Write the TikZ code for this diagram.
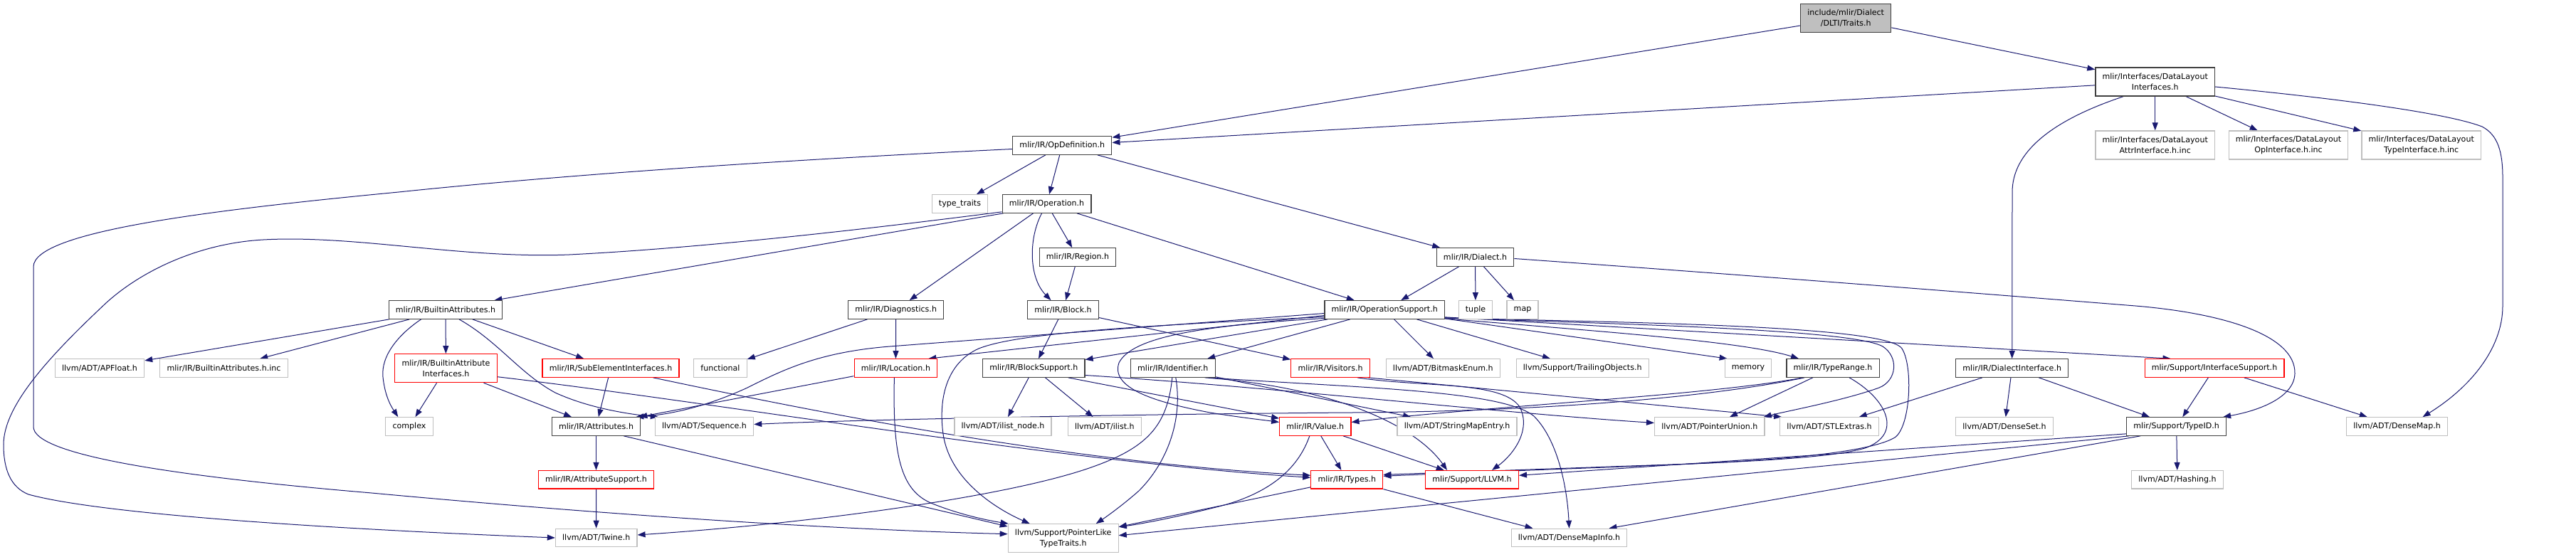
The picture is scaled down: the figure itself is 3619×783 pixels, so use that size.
\documentclass[tikz,border=0pt]{standalone}
\usepackage{fontspec}
\setmainfont{DejaVu Sans}
\usetikzlibrary{arrows.meta,calc,backgrounds}
\definecolor{edgec}{RGB}{25,25,112}
\definecolor{blkb}{RGB}{64,64,64}
\definecolor{gryb}{RGB}{191,191,191}
\definecolor{redb}{RGB}{255,0,0}
\definecolor{rootf}{RGB}{191,191,191}
\newcommand\nodefont{\fontsize{11.06pt}{15pt}\selectfont}
\tikzset{
  nbase/.style={line width=1.2pt, fill=white, inner xsep=9.7pt, inner ysep=0pt,
    minimum height=25.5pt, font=\nodefont, align=center, text=black},
  nb/.style={nbase, draw=blkb},
  ng/.style={nbase, draw=gryb},
  nr/.style={nbase, draw=redb},
  two/.style={minimum height=40pt},
  dep/.style={draw=edgec, line width=1.0pt, -{Triangle[length=11pt,width=8pt]}, fill=none}
}
\begin{document}
\begin{tikzpicture}[x=1pt,y=-1pt]
\useasboundingbox (0,0) rectangle (3619,783);
% row 0-2
\node[nb,fill=rootf,two] (Traits) at (2593.2,25.7) {include/mlir/Dialect\\/DLTI/Traits.h};
\node[nb,two] (DLI) at (3027.7,115) {mlir/Interfaces/DataLayout\\Interfaces.h};
\node[nb] (OpDef) at (1492.3,204.5) {mlir/IR/OpDefinition.h};
\node[ng,two] (DLAttr) at (3027.7,204) {mlir/Interfaces/DataLayout\\AttrInterface.h.inc};
\node[ng,two] (DLOp) at (3215,204) {mlir/Interfaces/DataLayout\\OpInterface.h.inc};
\node[ng,two] (DLType) at (3401.7,204) {mlir/Interfaces/DataLayout\\TypeInterface.h.inc};
% row 3-4
\node[ng] (typetraits) at (1348.5,286.5) {type\_traits};
\node[nb] (Operation) at (1470.5,286.5) {mlir/IR/Operation.h};
\node[nb] (Region) at (1514,361.5) {mlir/IR/Region.h};
\node[nb] (Dialect) at (2072.5,361.5) {mlir/IR/Dialect.h};
% row 5
\node[nb] (BA) at (626,435.5) {mlir/IR/BuiltinAttributes.h};
\node[nb] (Diagnostics) at (1258.7,435.5) {mlir/IR/Diagnostics.h};
\node[nb] (Block) at (1493.5,435.5) {mlir/IR/Block.h};
\node[nb] (OpSupport) at (1945.2,435.5) {mlir/IR/OperationSupport.h};
\node[ng] (tuple) at (2073,435.5) {tuple};
\node[ng] (map) at (2139,435.5) {map};
% row 6
\node[ng] (APFloat) at (140,517.5) {llvm/ADT/APFloat.h};
\node[ng] (BAinc) at (314.5,517.5) {mlir/IR/BuiltinAttributes.h.inc};
\node[nr,two] (BAI) at (626.5,517.7) {mlir/IR/BuiltinAttribute\\Interfaces.h};
\node[nr] (SubElem) at (858,517.5) {mlir/IR/SubElementInterfaces.h};
\node[ng] (functional) at (1012,517.5) {functional};
\node[nr] (Location) at (1258.4,517.5) {mlir/IR/Location.h};
\node[nb] (BlockSupport) at (1452.3,517.5) {mlir/IR/BlockSupport.h};
\node[nb] (Identifier) at (1647.8,517.5) {mlir/IR/Identifier.h};
\node[nr] (Visitors) at (1869,517.5) {mlir/IR/Visitors.h};
\node[ng] (BitmaskEnum) at (2027.3,517.5) {llvm/ADT/BitmaskEnum.h};
\node[ng] (TrailingObjects) at (2223.2,517.5) {llvm/Support/TrailingObjects.h};
\node[ng] (memory) at (2456,517.5) {memory};
\node[nb] (TypeRange) at (2575,517.5) {mlir/IR/TypeRange.h};
\node[nb] (DialectInterface) at (2826.7,517.5) {mlir/IR/DialectInterface.h};
\node[nr] (InterfaceSupport) at (3111,517.5) {mlir/Support/InterfaceSupport.h};
% row 7
\node[ng] (complex) at (575,599.5) {complex};
\node[nb] (Attributes) at (837.5,599.5) {mlir/IR/Attributes.h};
\node[ng] (Sequence) at (989.5,599.5) {llvm/ADT/Sequence.h};
\node[ng] (ilistnode) at (1409,599.5) {llvm/ADT/ilist\_node.h};
\node[ng] (ilist) at (1551.8,599.5) {llvm/ADT/ilist.h};
\node[nr] (Value) at (1847.8,599.5) {mlir/IR/Value.h};
\node[ng] (StringMapEntry) at (2047,599.5) {llvm/ADT/StringMapEntry.h};
\node[ng] (PointerUnion) at (2401.8,599.5) {llvm/ADT/PointerUnion.h};
\node[ng] (STLExtras) at (2570,599.5) {llvm/ADT/STLExtras.h};
\node[ng] (DenseSet) at (2816,599.5) {llvm/ADT/DenseSet.h};
\node[nb] (TypeID) at (3057.6,599.5) {mlir/Support/TypeID.h};
\node[ng] (DenseMap) at (3367.5,599.5) {llvm/ADT/DenseMap.h};
% row 8
\node[nr] (AttributeSupport) at (837.5,674.3) {mlir/IR/AttributeSupport.h};
\node[nr] (Types) at (1892.3,674.3) {mlir/IR/Types.h};
\node[nr] (LLVM) at (2068,674.3) {mlir/Support/LLVM.h};
\node[ng] (Hashing) at (3059,674.3) {llvm/ADT/Hashing.h};
% row 9
\node[ng] (Twine) at (837.7,756) {llvm/ADT/Twine.h};
\node[ng,two] (PointerLike) at (1493.7,756.7) {llvm/Support/PointerLike\\TypeTraits.h};
\node[ng] (DenseMapInfo) at (2204.5,756) {llvm/ADT/DenseMapInfo.h};

\begin{scope}[on background layer]
\fill[white] (0,0) rectangle (3619,783);
% top
\draw[dep] (Traits) -- (OpDef);
\draw[dep] (Traits) -- (DLI);
\draw[dep] (DLI) -- (OpDef);
\draw[dep] (DLI) -- (DLAttr);
\draw[dep] (DLI) -- (DLOp);
\draw[dep] (DLI) -- (DLType);
\draw[dep] ($(DLI.south west)+(40,0)$) .. controls (2880,170) and (2827,215) .. (2827,270) -- (DialectInterface.north);
\draw[dep] ($(DLI.east)+(0,7)$) .. controls (3300,140) and (3440,160) .. (3487,178) .. controls (3510,190) and (3516,215) .. (3516,250) -- (3516,430) .. controls (3516,490) and (3470,545) .. ($(DenseMap.north)+(36,0)$);
% OpDefinition
\draw[dep] (OpDef) -- (typetraits);
\draw[dep] (OpDef) -- (Operation);
\draw[dep] (OpDef) -- (Dialect);
\draw[dep] ($(OpDef.west)+(0,5)$) .. controls (1100,225) and (800,245) .. (560,270) .. controls (300,295) and (47,325) .. (47,375) -- (47,600) .. controls (47,640) and (250,670) .. (522,693) .. controls (900,728) and (1200,745) .. ($(PointerLike.west)+(0,-6)$);
% Operation
\draw[dep] ($(Operation.south west)+(0,-2)$) .. controls (1250,318) and (1000,348) .. (800,358) .. controls (650,364) and (500,330) .. (370,337) .. controls (280,342) and (200,380) .. (150,425) .. controls (70,500) and (5,570) .. (5,625) .. controls (5,660) and (15,685) .. (40,695) .. controls (150,725) and (500,745) .. (Twine.west);
\draw[dep] ($(Operation.south west)+(2,0)$) -- ($(BA.north east)+(-12,0)$);
\draw[dep] (Operation) -- (Diagnostics);
\draw[dep] ($(Operation.south)+(-7,0)$) .. controls (1445,335) and (1445,390) .. ($(Block.north)+(-17,0)$);
\draw[dep] (Operation) -- (Region);
\draw[dep] (Operation) -- (OpSupport);
\draw[dep] (Region) -- (Block);
% Dialect
\draw[dep] (Dialect) -- (OpSupport);
\draw[dep] (Dialect) -- (tuple);
\draw[dep] (Dialect) -- (map);
\draw[dep] ($(Dialect.east)+(0,2)$) .. controls (2500,390) and (2850,418) .. (3000,430) .. controls (3120,440) and (3225,470) .. (3224,525) .. controls (3223,560) and (3170,578) .. ($(TypeID.north east)+(-5,0)$);
% BuiltinAttributes
\draw[dep] (BA) -- (APFloat);
\draw[dep] (BA) -- (BAinc);
\draw[dep] ($(BA.south west)+(46,0)$) .. controls (560,470) and (535,500) .. (538,530) .. controls (541,560) and (552,575) .. ($(complex.north west)+(18,0)$);
\draw[dep] (BA) -- (BAI);
\draw[dep] (BA) -- (SubElem);
\draw[dep] ($(BA.south)+(19,0)$) .. controls (700,480) and (730,525) .. (780,552) .. controls (830,575) and (890,583) .. ($(Sequence.north west)+(5,0)$);
\draw[dep] (BAI) -- (complex);
\draw[dep] (BAI) -- (Attributes);
\draw[dep] ($(BAI.east)+(0,12)$) .. controls (1000,565) and (1500,650) .. ($(Types.west)+(0,-3)$);
\draw[dep] ($(SubElem.south east)+(-37,0)$) .. controls (1150,580) and (1500,650) .. ($(Types.west)+(0,-6)$);
\draw[dep] (SubElem) -- (Attributes);
% Diagnostics, Location, Attributes
\draw[dep] (Diagnostics) -- (functional);
\draw[dep] (Diagnostics) -- (Location);
\draw[dep] (Location) -- ($(Attributes.north east)+(-2,0)$);
\draw[dep] ($(Location.south)+(-2,0)$) .. controls (1254,640) and (1265,690) .. (1310,708) .. controls (1350,724) and (1390,732) .. ($(PointerLike.north west)+(1,0)$);
\draw[dep] (Attributes) -- (AttributeSupport);
\draw[dep] ($(Attributes.south east)+(-24,0)$) -- ($(PointerLike.north west)+(0,4)$);
\draw[dep] (AttributeSupport) -- (Twine);
% OperationSupport
\draw[dep] ($(OpSupport.west)+(0,8)$) -- ($(Location.north east)+(-13,0)$);
\draw[dep] ($(OpSupport.west)+(0,5)$) -- (1250,487) .. controls (1150,495) and (1100,520) .. (1050,545) .. controls (1000,568) and (950,582) .. ($(Attributes.north east)+(-7,0)$);
\draw[dep] (OpSupport) -- (BlockSupport);
\draw[dep] ($(OpSupport.west)+(0,10)$) .. controls (1600,458) and (1430,468) .. (1375,490) .. controls (1330,510) and (1318,560) .. (1325,610) .. controls (1335,680) and (1410,720) .. ($(PointerLike.north)+(-47,0)$);
\draw[dep] ($(OpSupport.west)+(0,12)$) .. controls (1680,458) and (1590,475) .. (1572,510) .. controls (1560,545) and (1620,565) .. (1700,580) .. controls (1750,588) and (1780,591) .. ($(Value.west)+(0,-6)$);
\draw[dep] (OpSupport) -- (Identifier);
\draw[dep] (OpSupport) -- (BitmaskEnum);
\draw[dep] (OpSupport) -- (TrailingObjects);
\draw[dep] ($(OpSupport.south east)+(0,-1)$) -- ($(memory.north west)+(4,0)$);
\draw[dep] ($(OpSupport.south east)+(0,-1)$) .. controls (2250,466) and (2450,480) .. ($(TypeRange.north)+(-48,0)$);
\draw[dep] ($(OpSupport.south east)+(0,-3)$) -- ($(InterfaceSupport.north west)+(37,0)$);
\draw[dep] ($(OpSupport.south east)+(0,-2)$) .. controls (2250,455) and (2600,462) .. (2645,487) .. controls (2668,502) and (2665,535) .. (2640,545) .. controls (2590,563) and (2510,578) .. ($(PointerUnion.north east)+(-2,0)$);
\draw[dep] ($(OpSupport.south east)+(0,-2)$) .. controls (2250,453) and (2650,456) .. (2672,490) .. controls (2688,515) and (2684,600) .. (2662,615) .. controls (2620,640) and (2450,650) .. (2320,654) -- ($(Types.east)+(0,-7)$);
% TypeRange
\draw[dep] ($(TypeRange.south)+(23,0)$) .. controls (2650,560) and (2675,610) .. (2620,630) .. controls (2550,650) and (2350,652) .. ($(Types.east)+(0,-5)$);
\draw[dep] ($(TypeRange.south)+(-40,0)$) .. controls (2420,555) and (2200,578) .. (1900,580) .. controls (1600,582) and (1200,590) .. ($(Sequence.east)+(0,-3)$);
\draw[dep] ($(TypeRange.south)+(-42,0)$) .. controls (2400,556) and (2100,570) .. ($(Value.east)+(0,-6)$);
\draw[dep] (TypeRange) -- (PointerUnion);
% DialectInterface, InterfaceSupport, TypeID
\draw[dep] (DialectInterface) -- (STLExtras);
\draw[dep] (DialectInterface) -- (DenseSet);
\draw[dep] (DialectInterface) -- (TypeID);
\draw[dep] (InterfaceSupport) -- (TypeID);
\draw[dep] (InterfaceSupport) -- (DenseMap);
\draw[dep] (TypeID) -- (Hashing);
\draw[dep] ($(TypeID.south west)+(4,0)$) -- ($(PointerLike.east)+(0,-4)$);
\draw[dep] ($(TypeID.south west)+(0,-3)$) -- ($(LLVM.east)+(0,-6)$);
\draw[dep] ($(TypeID.south west)+(20,0)$) -- ($(DenseMapInfo.north east)+(-26,0)$);
% Block, BlockSupport
\draw[dep] (Block) -- (BlockSupport);
\draw[dep] (Block) -- (Visitors);
\draw[dep] (BlockSupport) -- (ilistnode);
\draw[dep] (BlockSupport) -- (ilist);
\draw[dep] ($(BlockSupport.south east)+(-24,0)$) -- ($(Value.north west)+(0,2)$);
\draw[dep] ($(BlockSupport.east)+(0,10)$) .. controls (1800,545) and (2100,580) .. ($(PointerUnion.west)+(0,-5)$);
% Identifier
\draw[dep] ($(Identifier.south)+(-1,0)$) .. controls (1640,600) and (1610,630) .. (1533,657) .. controls (1420,697) and (1150,735) .. ($(Twine.east)+(0,-4)$);
\draw[dep] ($(Identifier.south)+(4,0)$) .. controls (1662,590) and (1640,650) .. (1600,690) .. controls (1575,712) and (1552,728) .. ($(PointerLike.north east)+(-32,0)$);
\draw[dep] (Identifier) -- (StringMapEntry);
\draw[dep] ($(Identifier.south east)+(-15,0)$) .. controls (1880,545) and (1990,600) .. ($(LLVM.north)+(-35,0)$);
\draw[dep] ($(Identifier.south east)+(-10,0)$) .. controls (1900,545) and (2110,548) .. (2155,585) .. controls (2190,620) and (2202,690) .. (DenseMapInfo.north);
% Visitors
\draw[dep] ($(Visitors.south east)+(-18,0)$) .. controls (2000,545) and (2110,535) .. (2135,572) .. controls (2152,605) and (2125,640) .. ($(LLVM.north)+(28,0)$);
\draw[dep] ($(Visitors.south east)+(-3,0)$) -- ($(STLExtras.north west)+(3,0)$);
% Value, Types
\draw[dep] (Value) -- (Types);
\draw[dep] (Value) -- (LLVM);
\draw[dep] ($(Value.south)+(-8,0)$) .. controls (1825,655) and (1790,690) .. (1720,710) .. controls (1650,728) and (1600,737) .. ($(PointerLike.east)+(0,-16)$);
\draw[dep] (Types) -- (PointerLike);
\draw[dep] (Types) -- (DenseMapInfo);
\end{scope}
\end{tikzpicture}
\end{document}
